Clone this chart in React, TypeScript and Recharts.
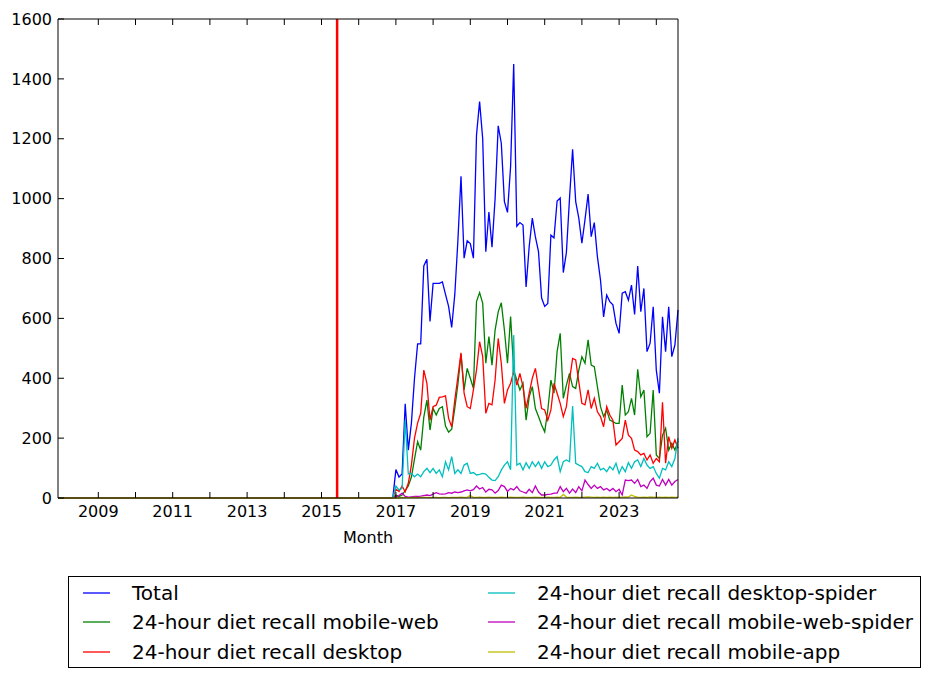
import React from 'react';
import { LineChart, Line, XAxis, YAxis, ReferenceLine, Legend } from 'recharts';

// monthly range of the chart (all series are flat zero before activeFrom)
const rangeStart = { year: 2007, month: 12 };
const rangeEnd = { year: 2024, month: 8 };
const activeFrom = { year: 2017, month: 1 };
const markerAt = 2015.42; // red vertical line

const yearTicks = [2009, 2010, 2011, 2012, 2013, 2014, 2015, 2016, 2017, 2018, 2019, 2020, 2021, 2022, 2023, 2024];
const valueTicks = [0, 200, 400, 600, 800, 1000, 1200, 1400, 1600];

// values from Jan 2017 onwards
const total = [
  95, 70, 80, 315, 160, 250, 400, 515, 515, 775,
  797, 590, 717, 717, 717, 722, 680, 640, 570, 680,
  860, 1075, 801, 859, 850, 801, 1212, 1324, 1200, 823,
  955, 838, 1000, 1243, 1185, 990, 954, 1107, 1450, 908,
  920, 912, 705, 840, 935, 872, 823, 668, 640, 650,
  878, 869, 992, 1002, 753, 820, 1000, 1165, 990, 935,
  851, 930, 1015, 873, 920, 806, 728, 605, 678, 656,
  645, 583, 550, 684, 689, 661, 711, 613, 775, 622,
  700, 489, 517, 639, 427, 350, 605, 489, 639, 472,
  511, 628,
];
const mobileWeb = [
  10, 5, 10, 25, 40, 70, 130, 188, 160, 270,
  327, 227, 299, 277, 299, 305, 240, 220, 230, 300,
  380, 480, 361, 433, 400, 366, 656, 686, 650, 450,
  539, 444, 561, 622, 652, 561, 450, 606, 427, 394,
  361, 383, 260, 338, 372, 299, 272, 244, 221, 294,
  394, 350, 489, 550, 333, 377, 416, 372, 366, 427,
  472, 450, 528, 444, 439, 372, 305, 272, 294, 260,
  255, 249, 249, 377, 277, 288, 333, 277, 430, 338,
  361, 205, 216, 361, 144, 132, 210, 233, 160, 183,
  160, 190,
];
const desktop = [
  30, 22, 40, 21, 49, 110, 200, 250, 283, 427,
  383, 260, 305, 310, 336, 338, 341, 266, 238, 327,
  405, 485, 350, 305, 299, 361, 427, 522, 472, 283,
  316, 311, 394, 533, 450, 316, 361, 383, 422, 377,
  416, 372, 299, 350, 400, 433, 366, 299, 294, 260,
  294, 383, 350, 316, 272, 305, 394, 466, 461, 388,
  316, 311, 361, 299, 333, 288, 272, 238, 305, 277,
  260, 177, 188, 199, 260, 210, 199, 160, 155, 144,
  149, 127, 144, 116, 132, 121, 320, 116, 205, 166,
  194, 166,
];
const desktopSpider = [
  40, 27, 32, 260, 80, 82, 71, 80, 71, 88,
  99, 85, 99, 82, 94, 71, 121, 94, 138, 82,
  94, 82, 110, 116, 82, 85, 77, 79, 82, 80,
  69, 60, 58, 71, 93, 110, 121, 94, 544, 110,
  116, 94, 118, 99, 121, 105, 121, 99, 121, 105,
  110, 127, 138, 88, 121, 127, 121, 307, 116, 110,
  105, 88, 85, 105, 99, 116, 94, 99, 88, 105,
  94, 116, 82, 105, 88, 118, 99, 121, 127, 105,
  132, 110, 99, 105, 82, 66, 99, 94, 121, 105,
  132, 200,
];
const mobileWebSpider = [
  5, 8, 16, 5, 3, 4, 5, 5, 6, 8,
  10, 8, 13, 18, 14, 13, 14, 18, 16, 20,
  18, 20, 24, 27, 24, 28, 40, 30, 35, 20,
  29, 27, 16, 25, 43, 38, 22, 32, 27, 38,
  24, 20, 16, 29, 18, 40, 20, 10, 10, 12,
  13, 16, 16, 38, 21, 32, 16, 30, 18, 38,
  24, 60, 45, 32, 43, 32, 38, 27, 32, 24,
  32, 21, 29, 10, 60, 58, 60, 49, 62, 38,
  43, 32, 55, 66, 43, 40, 62, 43, 62, 43,
  55, 62,
];
const mobileApp = [
  0, 0, 2, 1, 1, 1, 2, 1, 2, 2,
  2, 1, 2, 2, 1, 2, 2, 1, 2, 2,
  2, 3, 2, 3, 8, 2, 2, 3, 2, 2,
  3, 2, 2, 2, 3, 2, 2, 3, 2, 2,
  2, 3, 2, 2, 2, 3, 2, 2, 2, 3,
  2, 2, 3, 2, 12, 3, 2, 2, 3, 2,
  2, 3, 4, 3, 2, 3, 2, 3, 2, 3,
  2, 3, 2, 3, 4, 3, 10, 5, 3, 2,
  3, 2, 4, 3, 2, 3, 2, 3, 2, 3,
  2, 3,
];

const seriesList = [
  { key: 'total', name: 'Total', color: '#0000ff', values: total },
  { key: 'mobileWeb', name: '24-hour diet recall mobile-web', color: '#008000', values: mobileWeb },
  { key: 'desktop', name: '24-hour diet recall desktop', color: '#ff0000', values: desktop },
  { key: 'desktopSpider', name: '24-hour diet recall desktop-spider', color: '#00bfbf', values: desktopSpider },
  { key: 'mobileWebSpider', name: '24-hour diet recall mobile-web-spider', color: '#bf00bf', values: mobileWebSpider },
  { key: 'mobileApp', name: '24-hour diet recall mobile-app', color: '#bfbf00', values: mobileApp },
];

const monthValue = (y: number, m: number) => y + (m - 1) / 12;

const buildRows = () => {
  const rows: any[] = [];
  let y = rangeStart.year;
  let m = rangeStart.month;
  while (y < rangeEnd.year || (y === rangeEnd.year && m <= rangeEnd.month)) {
    const idx = (y - activeFrom.year) * 12 + (m - activeFrom.month);
    const row: any = { t: monthValue(y, m) };
    seriesList.forEach((s) => {
      row[s.key] = idx < 0 ? 0 : s.values[idx];
    });
    rows.push(row);
    m += 1;
    if (m > 12) { m = 1; y += 1; }
  }
  return rows;
};

const data = buildRows();
const xDomain = [monthValue(rangeStart.year, rangeStart.month), monthValue(rangeEnd.year, rangeEnd.month)];

const font = 'DejaVu Sans, sans-serif';
const tickStyle = { fontSize: 16, fill: '#000', fontFamily: font };

// legend drawn column-major, 3 rows x 2 columns
const LegendBox = () => (
  <div
    style={{
      position: 'relative',
      boxSizing: 'border-box',
      width: 853,
      height: 92,
      border: '1px solid #000',
      background: '#fff',
      fontFamily: font,
      fontSize: 20,
      color: '#000',
    }}
  >
    {seriesList.map((s, i) => {
      const col = Math.floor(i / 3);
      const row = i % 3;
      return (
        <div
          key={s.key}
          style={{
            position: 'absolute',
            left: 14 + col * 405,
            top: 1 + row * 29.5,
            height: 29.5,
            display: 'flex',
            alignItems: 'center',
            whiteSpace: 'nowrap',
          }}
        >
          <svg width={27} height={4} style={{ display: 'block', marginRight: 22 }}>
            <line x1={0} y1={2} x2={27} y2={2} stroke={s.color} strokeWidth={1.3} />
          </svg>
          <span>{s.name}</span>
        </div>
      );
    })}
  </div>
);

const App: React.FC = () => (
  <div style={{ position: 'absolute', left: 0, top: 0 }}>
    <LineChart
      width={931}
      height={679}
      data={data}
      margin={{ top: 18, right: 252, bottom: 121, left: 0 }}
      style={{ fontFamily: font }}
    >
      <XAxis
        xAxisId="bottom"
        dataKey="t"
        type="number"
        domain={xDomain}
        ticks={yearTicks}
        interval={0}
        height={60}
        tickFormatter={(v: number) => (Math.round(v) % 2 === 1 ? String(Math.round(v)) : '')}
        tick={tickStyle}
        tickSize={-6}
        tickMargin={14}
        axisLine={{ stroke: '#000' }}
        tickLine={{ stroke: '#000' }}
        label={{ value: 'Month', position: 'insideTop', offset: 34, fontSize: 16, fill: '#000', fontFamily: font }}
      />
      <XAxis
        xAxisId="top"
        dataKey="t"
        type="number"
        orientation="top"
        domain={xDomain}
        ticks={yearTicks}
        interval={0}
        height={1}
        tickFormatter={() => ''}
        tickSize={-6}
        tickMargin={0}
        axisLine={{ stroke: '#000' }}
        tickLine={{ stroke: '#000' }}
      />
      <YAxis
        yAxisId="left"
        domain={[0, 1600]}
        ticks={valueTicks}
        interval={0}
        width={58}
        tick={tickStyle}
        tickSize={-6}
        tickMargin={12}
        axisLine={{ stroke: '#000' }}
        tickLine={{ stroke: '#000' }}
      />
      <YAxis
        yAxisId="right"
        orientation="right"
        domain={[0, 1600]}
        ticks={valueTicks}
        interval={0}
        width={1}
        tickFormatter={() => ''}
        tickSize={-6}
        tickMargin={0}
        axisLine={{ stroke: '#000' }}
        tickLine={{ stroke: '#000' }}
      />
      {seriesList.map((s) => (
        <Line
          key={s.key}
          xAxisId="bottom"
          yAxisId="left"
          type="linear"
          dataKey={s.key}
          name={s.name}
          stroke={s.color}
          strokeWidth={1.3}
          dot={false}
          activeDot={false}
          isAnimationActive={false}
        />
      ))}
      <ReferenceLine xAxisId="bottom" yAxisId="left" x={markerAt} stroke="#ff0000" strokeWidth={2.5} />
      <Legend
        layout="horizontal"
        verticalAlign="middle"
        align="center"
        wrapperStyle={{ left: 68, top: 576, width: 853, height: 92 }}
        content={() => <LegendBox />}
      />
    </LineChart>
  </div>
);

export default App;
